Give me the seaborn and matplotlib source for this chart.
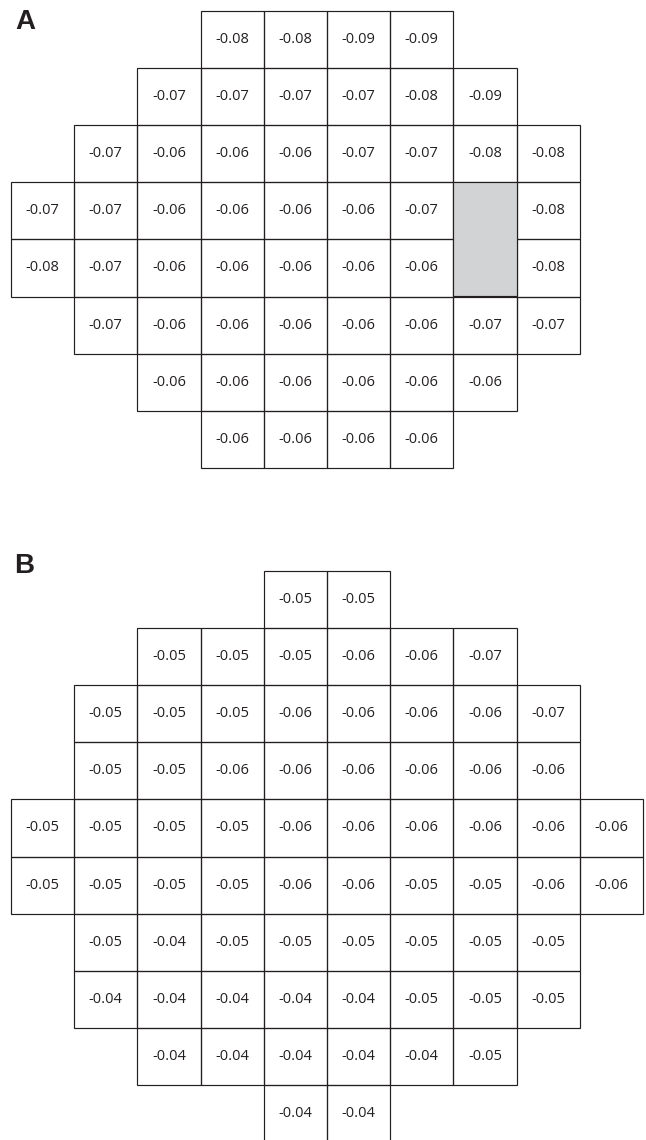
import numpy as np
import seaborn as sns
from matplotlib import pyplot as plt
from matplotlib.colors import ListedColormap
from matplotlib.patches import Rectangle

# panel A: 8 rows x 9 columns, None = no cell
panel_a = [
    [None, None, None, -0.08, -0.08, -0.09, -0.09, None, None],
    [None, None, -0.07, -0.07, -0.07, -0.07, -0.08, -0.09, None],
    [None, -0.07, -0.06, -0.06, -0.06, -0.07, -0.07, -0.08, -0.08],
    [-0.07, -0.07, -0.06, -0.06, -0.06, -0.06, -0.07, None, -0.08],
    [-0.08, -0.07, -0.06, -0.06, -0.06, -0.06, -0.06, None, -0.08],
    [None, -0.07, -0.06, -0.06, -0.06, -0.06, -0.06, -0.07, -0.07],
    [None, None, -0.06, -0.06, -0.06, -0.06, -0.06, -0.06, None],
    [None, None, None, -0.06, -0.06, -0.06, -0.06, None, None],
]
# grey blind-spot block in panel A (row, col, rows spanned)
blind_spot = (3, 7, 2)

# panel B: 10 rows x 10 columns
panel_b = [
    [None, None, None, None, -0.05, -0.05, None, None, None, None],
    [None, None, -0.05, -0.05, -0.05, -0.06, -0.06, -0.07, None, None],
    [None, -0.05, -0.05, -0.05, -0.06, -0.06, -0.06, -0.06, -0.07, None],
    [None, -0.05, -0.05, -0.06, -0.06, -0.06, -0.06, -0.06, -0.06, None],
    [-0.05, -0.05, -0.05, -0.05, -0.06, -0.06, -0.06, -0.06, -0.06, -0.06],
    [-0.05, -0.05, -0.05, -0.05, -0.06, -0.06, -0.05, -0.05, -0.06, -0.06],
    [None, -0.05, -0.04, -0.05, -0.05, -0.05, -0.05, -0.05, -0.05, None],
    [None, -0.04, -0.04, -0.04, -0.04, -0.04, -0.05, -0.05, -0.05, None],
    [None, None, -0.04, -0.04, -0.04, -0.04, -0.04, -0.05, None, None],
    [None, None, None, None, -0.04, -0.04, None, None, None, None],
]

line_col = '#231f20'
lw = 0.85
W, H = 646, 1140
cw, ch = 63.2, 57.1   # cell size in px

fig = plt.figure(figsize=(W / 100, H / 100), dpi=100)


def grid(data, top_px):
    arr = np.array(data, dtype=float)
    nr, nc = arr.shape
    ax = fig.add_axes([11 / W, 1 - (top_px + nr * ch) / H, nc * cw / W, nr * ch / H])
    sns.heatmap(arr, ax=ax, cmap=ListedColormap(['white']), cbar=False,
                annot=True, fmt='.2f', linewidths=0,
                xticklabels=False, yticklabels=False,
                annot_kws={'fontsize': 10.5, 'color': '#231f20', 'family': 'Open Sans'})
    ax.patch.set_visible(False)
    # outline only the cells that exist
    for i, j in zip(*np.where(~np.isnan(arr))):
        ax.add_patch(Rectangle((j, i), 1, 1, fill=False, edgecolor=line_col,
                               linewidth=lw, clip_on=False))
    return ax


ax_a = grid(panel_a, 11)
r, c, span = blind_spot
ax_a.add_patch(Rectangle((c, r), 1, span, facecolor='#d1d3d4', edgecolor=line_col,
                         linewidth=lw, clip_on=False))

ax_b = grid(panel_b, 571)

fig.text(15 / W, 1 - 29 / H, 'A', fontsize=20, fontweight='bold',
         family='Liberation Sans', color='#231f20', va='baseline')
fig.text(14 / W, 1 - 573 / H, 'B', fontsize=20, fontweight='bold',
         family='Liberation Sans', color='#231f20', va='baseline')

fig.savefig('out.png', dpi=100)
